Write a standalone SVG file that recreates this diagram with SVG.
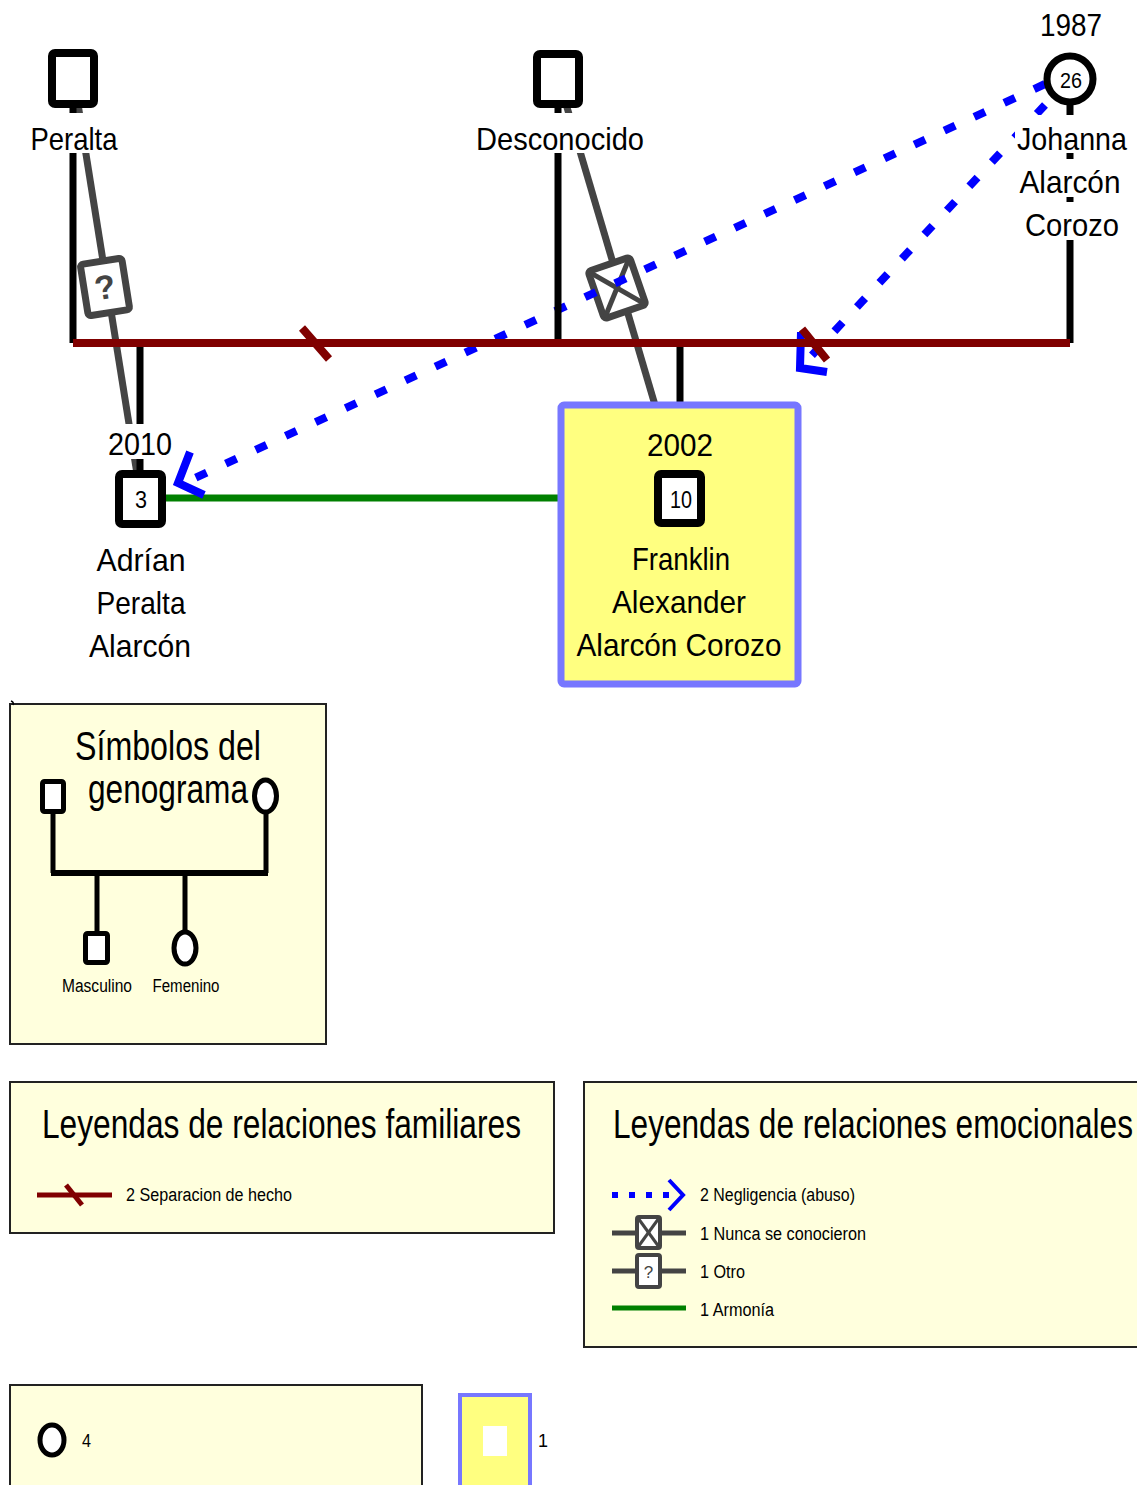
<svg xmlns="http://www.w3.org/2000/svg" width="1137" height="1485" viewBox="0 0 1137 1485">
<style>
.t{font-family:"Liberation Sans",Arial,sans-serif;fill:#000}
.nm{font-size:32px;text-anchor:middle}
.num{font-size:24px;text-anchor:middle}
.lg{font-size:18px}
.ttl{font-size:40px}
.bg{fill:#fff}
.par{stroke:#000;stroke-width:7;fill:none}
.fam{stroke:#800000;stroke-width:8;fill:none}
.rel{stroke:#444;stroke-width:7;fill:none}
.box{stroke:#444;stroke-width:7;fill:#fff}
.neg{stroke:#0000ff;stroke-width:8;fill:none;stroke-dasharray:12 21}
.chev{stroke:#0000ff;stroke-width:8;fill:none}
.har{stroke:#008000;stroke-width:7;fill:none}
.male{fill:#fff;stroke:#000;stroke-width:8}
.leg{fill:#ffffdd;stroke:#222;stroke-width:2}
.sym{fill:#fff;stroke:#000;stroke-width:5}
</style>

<g id="connectors">
  <!-- emotional relations (gray) -->
  <line class="rel" x1="78" y1="104" x2="137" y2="474"/>
  <g transform="translate(105,287) rotate(-9)">
    <rect class="box" x="-21" y="-26" width="42" height="52" rx="3"/>
    <text class="t" x="0" y="12" font-size="34" font-weight="bold" text-anchor="middle" style="fill:#444">?</text>
  </g>
  <line class="rel" x1="566" y1="104" x2="655" y2="405"/>
  <g transform="translate(617,288) rotate(-19)">
    <rect class="box" x="-22" y="-25" width="44" height="50" rx="3"/>
    <line x1="-21" y1="-24" x2="21" y2="24" stroke="#444" stroke-width="5"/>
    <line x1="21" y1="-24" x2="-21" y2="24" stroke="#444" stroke-width="5"/>
  </g>
  <!-- harmony -->
  <line class="har" x1="160" y1="498" x2="561" y2="498"/>
  <!-- negligence -->
  <line class="neg" x1="1045" y1="84" x2="182" y2="484"/>
  <polyline class="chev" points="190,452 178,483 204,495"/>
  <line class="neg" x1="1045" y1="105" x2="802" y2="366"/>
  <polyline class="chev" points="801,332 800,368 827,372"/>
  <!-- parent / child lines -->
  <line class="par" x1="73" y1="104" x2="73" y2="343"/>
  <line class="par" x1="558" y1="104" x2="558" y2="343"/>
  <line class="par" x1="1070" y1="104" x2="1070" y2="343"/>
  <line class="par" x1="140" y1="343" x2="140" y2="474"/>
  <line class="par" x1="680" y1="343" x2="680" y2="405"/>
  <!-- family line with separations -->
  <line class="fam" x1="73" y1="343" x2="1070" y2="343"/>
  <line class="fam" x1="302" y1="328" x2="329" y2="359"/>
  <line class="fam" x1="802" y1="329" x2="827" y2="360"/>
</g>

<g id="peralta">
  <rect class="male" x="52" y="53" width="42" height="51" rx="3"/>
  <rect class="bg" x="29" y="113" width="92" height="40"/>
  <text class="t nm" x="74" y="150" textLength="87" lengthAdjust="spacingAndGlyphs">Peralta</text>
</g>

<g id="desconocido">
  <rect class="male" x="537" y="54" width="42" height="50" rx="3"/>
  <rect class="bg" x="473" y="113" width="174" height="40"/>
  <text class="t nm" x="560" y="150" textLength="168" lengthAdjust="spacingAndGlyphs">Desconocido</text>
</g>

<g id="johanna">
  <text class="t nm" x="1071" y="36" textLength="62" lengthAdjust="spacingAndGlyphs">1987</text>
  <circle cx="1070" cy="79" r="23" fill="#fff" stroke="#000" stroke-width="7"/>
  <text class="t" x="1071" y="88" font-size="22" text-anchor="middle" textLength="22" lengthAdjust="spacingAndGlyphs">26</text>
  <rect class="bg" x="1015" y="115" width="114" height="38"/>
  <text class="t nm" x="1072" y="150" textLength="110" lengthAdjust="spacingAndGlyphs">Johanna</text>
  <rect class="bg" x="1018" y="159" width="106" height="38"/>
  <text class="t nm" x="1070" y="193" textLength="101" lengthAdjust="spacingAndGlyphs">Alarcón</text>
  <rect class="bg" x="1023" y="202" width="98" height="38"/>
  <text class="t nm" x="1072" y="236" textLength="94" lengthAdjust="spacingAndGlyphs">Corozo</text>
</g>

<g id="adrian">
  <rect class="bg" x="105" y="424" width="70" height="35"/>
  <text class="t nm" x="140" y="455" textLength="64" lengthAdjust="spacingAndGlyphs">2010</text>
  <rect class="male" x="119" y="474" width="43" height="50" rx="3"/>
  <text class="t num" x="141" y="508" textLength="12" lengthAdjust="spacingAndGlyphs">3</text>
  <text class="t nm" x="141" y="571" textLength="89" lengthAdjust="spacingAndGlyphs">Adrían</text>
  <text class="t nm" x="141" y="614" textLength="89" lengthAdjust="spacingAndGlyphs">Peralta</text>
  <text class="t nm" x="140" y="657" textLength="102" lengthAdjust="spacingAndGlyphs">Alarcón</text>
</g>

<g id="franklin">
  <rect x="561" y="405" width="237" height="279" rx="3" fill="#ffff80" stroke="#7777ff" stroke-width="7"/>
  <text class="t nm" x="680" y="456" textLength="66" lengthAdjust="spacingAndGlyphs">2002</text>
  <rect class="male" x="658" y="474" width="43" height="49" rx="3"/>
  <text class="t num" x="681" y="508" textLength="22" lengthAdjust="spacingAndGlyphs">10</text>
  <text class="t nm" x="681" y="570" textLength="98" lengthAdjust="spacingAndGlyphs">Franklin</text>
  <text class="t nm" x="679" y="613" textLength="134" lengthAdjust="spacingAndGlyphs">Alexander</text>
  <text class="t nm" x="679" y="656" textLength="205" lengthAdjust="spacingAndGlyphs">Alarcón Corozo</text>
</g>

<g id="legend-simbolos">
  <rect class="leg" x="10" y="704" width="316" height="340"/>
  <path d="M11 701 q3 1 2 4" fill="none" stroke="#000" stroke-width="1.5"/>
  <text class="t ttl" x="168" y="760" text-anchor="middle" textLength="186" lengthAdjust="spacingAndGlyphs">Símbolos del</text>
  <text class="t ttl" x="168" y="803" text-anchor="middle" textLength="160" lengthAdjust="spacingAndGlyphs">genograma</text>
  <line x1="53" y1="812" x2="53" y2="873" stroke="#000" stroke-width="5"/>
  <line x1="266" y1="812" x2="266" y2="873" stroke="#000" stroke-width="5"/>
  <line x1="51" y1="873" x2="268" y2="873" stroke="#000" stroke-width="6"/>
  <line x1="97" y1="873" x2="97" y2="934" stroke="#000" stroke-width="5"/>
  <line x1="185" y1="873" x2="185" y2="933" stroke="#000" stroke-width="5"/>
  <rect class="sym" x="42.5" y="781.5" width="21" height="30" rx="2"/>
  <ellipse class="sym" cx="265.5" cy="796" rx="11" ry="16"/>
  <rect class="sym" x="85.5" y="933.5" width="22" height="29" rx="2"/>
  <ellipse class="sym" cx="185" cy="948" rx="11" ry="16"/>
  <text class="t lg" x="97" y="992" text-anchor="middle" textLength="70" lengthAdjust="spacingAndGlyphs">Masculino</text>
  <text class="t lg" x="186" y="992" text-anchor="middle" textLength="67" lengthAdjust="spacingAndGlyphs">Femenino</text>
</g>

<g id="legend-familiares">
  <rect class="leg" x="10" y="1082" width="544" height="151"/>
  <text class="t ttl" x="42" y="1138" textLength="479" lengthAdjust="spacingAndGlyphs">Leyendas de relaciones familiares</text>
  <line x1="37" y1="1195" x2="112" y2="1195" stroke="#800000" stroke-width="5"/>
  <line x1="66" y1="1185" x2="82" y2="1205" stroke="#800000" stroke-width="5"/>
  <text class="t lg" x="126" y="1201" textLength="166" lengthAdjust="spacingAndGlyphs">2 Separacion de hecho</text>
</g>

<g id="legend-emocionales">
  <rect class="leg" x="584" y="1082" width="560" height="265"/>
  <text class="t ttl" x="613" y="1138" textLength="520" lengthAdjust="spacingAndGlyphs">Leyendas de relaciones emocionales</text>
  <line x1="612" y1="1195" x2="670" y2="1195" stroke="#0000ff" stroke-width="6" stroke-dasharray="6 11"/>
  <polyline points="669,1180 683,1195 669,1210" fill="none" stroke="#0000ff" stroke-width="4"/>
  <text class="t lg" x="700" y="1201" textLength="155" lengthAdjust="spacingAndGlyphs">2 Negligencia (abuso)</text>
  <line x1="612" y1="1233" x2="686" y2="1233" stroke="#444" stroke-width="5"/>
  <rect x="637" y="1217" width="23" height="31" rx="2" fill="#fff" stroke="#444" stroke-width="4"/>
  <line x1="638" y1="1218" x2="659" y2="1247" stroke="#444" stroke-width="3"/>
  <line x1="659" y1="1218" x2="638" y2="1247" stroke="#444" stroke-width="3"/>
  <text class="t lg" x="700" y="1240" textLength="166" lengthAdjust="spacingAndGlyphs">1 Nunca se conocieron</text>
  <line x1="612" y1="1271" x2="686" y2="1271" stroke="#444" stroke-width="5"/>
  <rect x="637" y="1255" width="23" height="32" rx="2" fill="#fff" stroke="#444" stroke-width="4"/>
  <text class="t" x="648.5" y="1278" font-size="17" text-anchor="middle" style="fill:#444">?</text>
  <text class="t lg" x="700" y="1278" textLength="45" lengthAdjust="spacingAndGlyphs">1 Otro</text>
  <line x1="612" y1="1308" x2="686" y2="1308" stroke="#008000" stroke-width="5"/>
  <text class="t lg" x="700" y="1316" textLength="74" lengthAdjust="spacingAndGlyphs">1 Armonía</text>
</g>

<g id="legend-nodos">
  <rect class="leg" x="10" y="1385" width="412" height="110"/>
  <ellipse class="sym" cx="52" cy="1440" rx="12" ry="15"/>
  <text class="t lg" x="82" y="1447" textLength="9" lengthAdjust="spacingAndGlyphs">4</text>
</g>

<g id="legend-indice">
  <rect x="460" y="1395" width="70" height="100" fill="#ffff80" stroke="#7777ff" stroke-width="4"/>
  <rect x="483" y="1426" width="24" height="30" fill="#fff"/>
  <text class="t lg" x="538" y="1447">1</text>
</g>
</svg>
